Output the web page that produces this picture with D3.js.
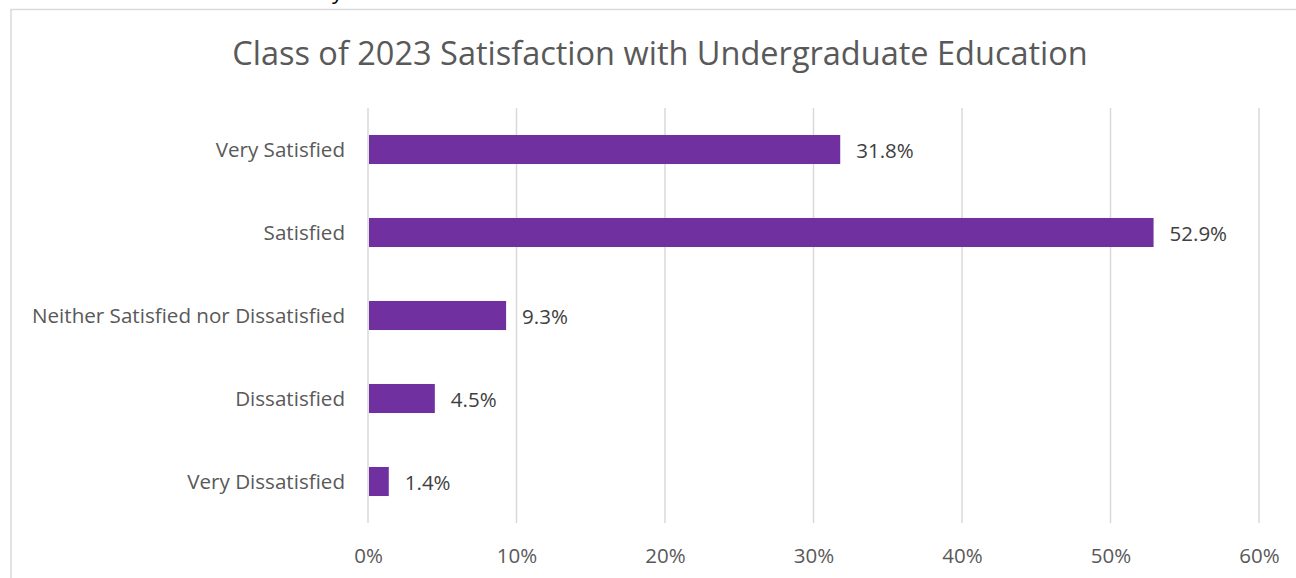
<!DOCTYPE html>
<html><head><meta charset="utf-8">
<script src="https://cdn.jsdelivr.net/npm/d3@7"></script>
<style>
html,body{margin:0;padding:0;background:#fff;}
svg{display:block;font-family:"Open Sans",sans-serif;}
</style></head>
<body><svg id="c" width="1296" height="578"></svg>
<script>
const categories = ["Very Satisfied","Satisfied","Neither Satisfied nor Dissatisfied","Dissatisfied","Very Dissatisfied"];
const values = [31.8, 52.9, 9.3, 4.5, 1.4];
const tickValues = [0,10,20,30,40,50,60];
const title = "Class of 2023 Satisfaction with Undergraduate Education";

const svg = d3.select("#c");
// outer chart border (right/bottom cut off)
svg.append("rect").attr("x",11).attr("y",9.5).attr("width",1300).attr("height",600)
  .attr("fill","none").attr("stroke","#d9d9d9").attr("stroke-width",1.5);
// fragment of text above
svg.append("text").attr("x",332).attr("y",-1).attr("font-size",22).attr("fill","#000").text("y");

const m = {left:368, right:1259, top:108, bottom:523};
const x = d3.scaleLinear().domain([0,60]).range([m.left,m.right]);
const y = d3.scaleBand().domain(categories).range([m.top,m.bottom]).paddingInner(0.65).paddingOuter(0.325);

// gridlines
svg.append("g").selectAll("line").data(tickValues).join("line")
  .attr("x1",d=>x(d)).attr("x2",d=>x(d)).attr("y1",m.top).attr("y2",m.bottom)
  .attr("stroke","#d9d9d9").attr("stroke-width",1.5);

// bars
svg.append("g").selectAll("rect").data(values).join("rect")
  .attr("x",x(0)+1).attr("y",(d,i)=>y(categories[i]))
  .attr("width",d=>x(d)-x(0)-1).attr("height",y.bandwidth())
  .attr("fill","#7030a0");

// data labels
svg.append("g").selectAll("text").data(values).join("text")
  .attr("x",d=>x(d)+16).attr("y",(d,i)=>y(categories[i])+y.bandwidth()/2+1)
  .attr("dy","0.35em").attr("font-size",20.5).attr("fill","#404040")
  .text(d=>d.toFixed(1)+"%");

// category labels
const yAxis = d3.axisLeft(y).tickSize(0).tickPadding(23);
const ya = svg.append("g").attr("transform",`translate(${m.left},1)`).call(yAxis);
ya.select(".domain").remove();
ya.selectAll("text").attr("font-size",20.6).attr("fill","#595959").attr("font-family","Open Sans");

// x axis tick labels
const xAxis = d3.axisBottom(x).tickValues(tickValues).tickFormat(d=>d+"%").tickSize(0).tickPadding(25);
const xa = svg.append("g").attr("transform",`translate(0,${m.bottom})`).call(xAxis);
xa.select(".domain").remove();
xa.selectAll("text").attr("font-size",20.5).attr("fill","#595959").attr("font-family","Open Sans");

// title
svg.append("text").attr("x",660).attr("y",65).attr("text-anchor","middle")
  .attr("font-size",32.5).attr("fill","#595959").text(title);
</script></body></html>
